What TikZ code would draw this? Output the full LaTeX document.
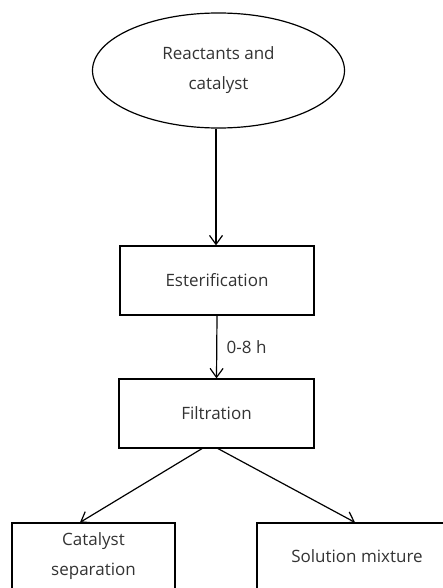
\documentclass[tikz,border=0pt]{standalone}
\usepackage{fontspec}
\setmainfont{Open Sans}
\usetikzlibrary{shapes.geometric,arrows.meta}

\begin{document}
\begin{tikzpicture}[x=1pt,y=-1pt,>={Straight Barb[length=9pt,width=13pt]},
	txt/.style={text=black!80,font=\fontsize{17}{30}\selectfont,align=center},
	stage/.style={txt,draw,line width=1.2pt,inner sep=0pt},
	flow/.style={->,line width=1.2pt}]
	\useasboundingbox (0,0) rectangle (443,588);
	\node[stage,ellipse,minimum width=252,minimum height=115] (reac) at (218.5,70.5) {Reactants and\\catalyst};
	\node[stage,minimum width=194,minimum height=69] (est) at (217,280.5) {Esterification};
	\node[stage,minimum width=195,minimum height=69] (filt) at (216.5,413.5) {Filtration};
	\begin{scope}
		\clip (0,0) rectangle (443,588);
		\node[stage,minimum width=163,minimum height=67] (cat) at (93.5,556.5) {Catalyst\\separation};
		\node[stage,minimum width=200,minimum height=67] (sol) at (357,556.5) {Solution mixture};
	\end{scope}
	
	\draw[flow] ([xshift=-2.5]reac.south) -- ([xshift=-1]est.north);	%reactants--esterification
	\draw[flow] (est.south) -- node[txt,right=6pt] {0-8 h} (filt.north);	%esterification--filtration
	%
	\draw[flow] ([xshift=-14.5]filt.south) -- ([xshift=-13.5]cat.north);	%filtration--catalyst
	\draw[flow] ([xshift=1.5]filt.south) -- ([xshift=-2]sol.north);		%filtration--solution
\end{tikzpicture}
\end{document}
